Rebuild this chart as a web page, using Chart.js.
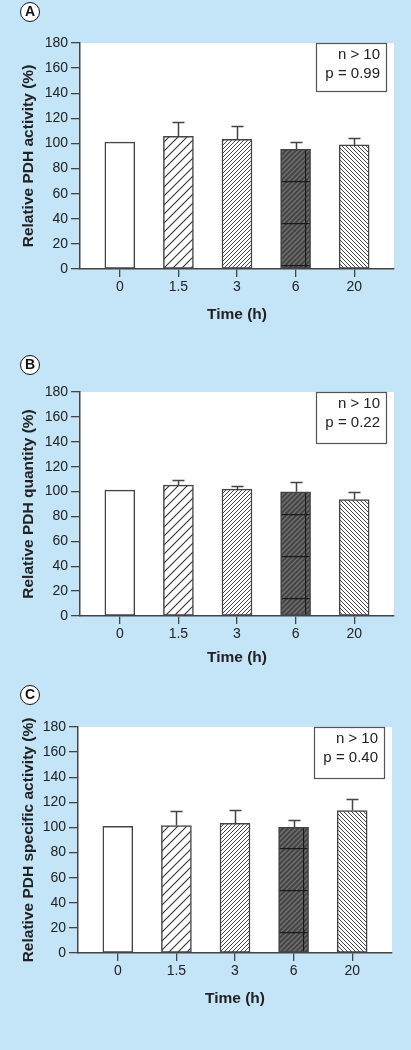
<!DOCTYPE html>
<html>
<head>
<meta charset="utf-8">
<script src="https://cdn.jsdelivr.net/npm/chart.js@4.4.1/dist/chart.umd.min.js"></script>
<style>
body{margin:0;background:#c4e4f7;}
#wrap{position:relative;width:411px;height:1050px;background:#c4e4f7;overflow:hidden;}
.panel{position:absolute;left:0;}
.tag{position:absolute;box-sizing:border-box;width:20px;height:20px;border:1.8px solid #111;border-radius:50%;background:#fff;
  font:bold 14px "Liberation Sans",Arial,sans-serif;color:#111;text-align:center;line-height:17px;}
</style>
</head>
<body>
<div id="wrap"></div>
<script>
"use strict"

// ---- data ----
const timeLabels = ['0', '1.5', '3', '6', '20']
const yMin = 0
const yMax = 180
const yStep = 20

// bar heights (mean, %) and top of the error bar (mean + SD)
const activityMean = [101, 105.7, 103.3, 95.4, 98.8]
const activityErrTop = [null, 117, 114.2, 101.4, 104.4]
const quantityMean = [101.2, 105.2, 102, 99.8, 93.6]
const quantityErrTop = [null, 109.4, 104.1, 107.8, 99.8]
const specificMean = [100.9, 101.5, 103.3, 100.1, 113.4]
const specificErrTop = [null, 112.9, 114.2, 105.9, 122.4]

const yTitles = ['Relative PDH activity (%)', 'Relative PDH quantity (%)', 'Relative PDH specific activity (%)']
const xTitle = 'Time (h)'
const notes = [['n > 10', 'p = 0.99'], ['n > 10', 'p = 0.22'], ['n > 10', 'p = 0.40']]
const tags = ['A', 'B', 'C']

// ---- layout of each panel (pixels) ----
const panels = [
    {top: 0,   h: 340, left: 80, right: 394, plotTop: 43, plotBottom: 269, titlePad: 16, tagY: 12, seamY: 3,  boxH: 48},
    {top: 340, h: 340, left: 80, right: 394, plotTop: 52, plotBottom: 276, titlePad: 13, tagY: 25, seamY: 17, boxH: 51},
    {top: 680, h: 370, left: 78, right: 392, plotTop: 47, plotBottom: 273, titlePad: 42, tagY: 15, seamY: 20, boxH: 51},
]
const allMeans = [activityMean, quantityMean, specificMean]
const allErrs = [activityErrTop, quantityErrTop, specificErrTop]

const INK = '#444'
const TXT = '#222'
Chart.defaults.font.family = '"Liberation Sans", Arial, sans-serif'
Chart.defaults.color = TXT

// hatch patterns
function makeHatch(size, dir, bg, fg, lw){
    const c = document.createElement('canvas')
    c.width = size; c.height = size
    const g = c.getContext('2d')
    g.fillStyle = bg
    g.fillRect(0, 0, size, size)
    g.strokeStyle = fg
    g.lineWidth = lw
    g.beginPath()
    for (let k = -1; k <= 1; k++){
        if (dir > 0){
            g.moveTo(k*size - 1, size + 1); g.lineTo(k*size + size + 1, -1)
        } else {
            g.moveTo(k*size - 1, -1); g.lineTo(k*size + size + 1, size + 1)
        }
    }
    g.stroke()
    return g.createPattern(c, 'repeat')
}
// dark bar: tiled texture with visible seams like in the scan
function makeDarkTile(){
    const w = 25, h = 42
    const c = document.createElement('canvas')
    c.width = w; c.height = h
    const g = c.getContext('2d')
    g.fillStyle = '#454545'
    g.fillRect(0, 0, w, h)
    g.strokeStyle = '#727272'
    g.lineWidth = 1.3
    g.beginPath()
    for (let k = -h; k <= w + h; k += 5){
        g.moveTo(k, h); g.lineTo(k + h, 0)
    }
    g.stroke()
    g.strokeStyle = '#1a1a1a'
    g.lineWidth = 1.3
    g.beginPath()
    g.moveTo(0, 0.5); g.lineTo(w, 0.5)
    g.moveTo(0.5, 0); g.lineTo(0.5, h)
    g.stroke()
    return g.createPattern(c, 'repeat')
}

const plotBg = {
    id: 'plotBg',
    beforeDraw(chart){
        const {ctx, chartArea: a} = chart
        ctx.save()
        ctx.fillStyle = '#fff'
        ctx.fillRect(a.left, a.top, a.right - a.left, a.bottom - a.top)
        ctx.restore()
    }
}

const seamAlign = {
    id: 'seamAlign',
    beforeDatasetsDraw(chart){
        const el = chart.getDatasetMeta(0).data[3]
        const pat = chart.data.datasets[0].backgroundColor[3]
        const left = el.x - el.width/2
        pat.setTransform(new DOMMatrix().translate(Math.round(left) + 24, Math.round(el.base) - chart.options.plugins.seamAlign.seamY))
    }
}

const errorBars = {
    id: 'errorBars',
    afterDatasetsDraw(chart){
        const ctx = chart.ctx
        const ds = chart.data.datasets[0]
        const meta = chart.getDatasetMeta(0)
        const ys = chart.scales.y
        ctx.save()
        ctx.strokeStyle = INK
        ctx.lineWidth = 1.5
        meta.data.forEach((bar, i) => {
            const top = ds.errTop[i]
            if (top == null) return
            const yT = Math.round(ys.getPixelForValue(top)) + 0.5
            const x = Math.round(bar.x) + 0.5
            ctx.beginPath()
            ctx.moveTo(x, bar.y)
            ctx.lineTo(x, yT)
            ctx.moveTo(x - 6, yT)
            ctx.lineTo(x + 6, yT)
            ctx.stroke()
        })
        ctx.restore()
    }
}

const noteBox = {
    id: 'noteBox',
    afterDraw(chart){
        const o = chart.options.plugins.noteBox
        const {ctx, chartArea: a} = chart
        const x0 = a.right - 78, w = 70, y0 = a.top
        ctx.save()
        ctx.fillStyle = '#fff'
        ctx.fillRect(x0, y0, w, o.h)
        ctx.strokeStyle = '#555'
        ctx.lineWidth = 1.2
        ctx.strokeRect(x0 + 0.5, y0 + 0.5, w, o.h)
        ctx.fillStyle = TXT
        ctx.font = '15px "Liberation Sans", Arial, sans-serif'
        ctx.textAlign = 'right'
        ctx.textBaseline = 'middle'
        ctx.fillText(o.lines[0], x0 + w - 6, y0 + 12)
        ctx.fillText(o.lines[1], x0 + w - 6, y0 + 31)
        ctx.restore()
    }
}

const wrap = document.getElementById('wrap')

panels.forEach((p, n) => {
    const div = document.createElement('div')
    div.className = 'panel'
    div.style.top = p.top + 'px'
    div.style.width = '411px'
    div.style.height = p.h + 'px'
    const cv = document.createElement('canvas')
    cv.width = 411; cv.height = p.h
    cv.style.width = '411px'; cv.style.height = p.h + 'px'
    div.appendChild(cv)
    const tag = document.createElement('div')
    tag.className = 'tag'
    tag.style.left = (30 - 10) + 'px'
    tag.style.top = (p.tagY - 10) + 'px'
    tag.textContent = tags[n]
    div.appendChild(tag)
    wrap.appendChild(div)

    const fills = [
        '#ffffff',
        makeHatch(9, 1, '#fff', '#333', 1.1),
        makeHatch(4, 1, '#fff', '#444', 1),
        makeDarkTile(),
        makeHatch(4, -1, '#fff', '#444', 1),
    ]

    new Chart(cv, {
        type: 'bar',
        data: {
            datasets: [{
                data: allMeans[n].map((v, i) => ({x: i, y: v})),
                errTop: allErrs[n],
                backgroundColor: fills,
                borderColor: INK,
                borderWidth: 1.5,
                borderSkipped: false,
                barThickness: 30,
            }]
        },
        options: {
            responsive: false,
            devicePixelRatio: 1,
            animation: false,
            layout: {padding: {top: p.plotTop, right: 411 - p.right, left: 0, bottom: 0}},
            plugins: {
                legend: {display: false},
                tooltip: {enabled: false},
                noteBox: {lines: notes[n], h: p.boxH},
                seamAlign: {seamY: p.seamY},
            },
            scales: {
                x: {
                    type: 'linear',
                    min: -0.68,
                    max: 4.68,
                    offset: false,
                    afterBuildTicks: (s) => { s.ticks = timeLabels.map((t, i) => ({value: i})) },
                    afterFit: (s) => { s.height = p.h - p.plotBottom },
                    ticks: {
                        callback: (v) => timeLabels[v],
                        font: {size: 14},
                        color: TXT,
                        padding: 2,
                        maxRotation: 0,
                    },
                    grid: {offset: false, drawOnChartArea: false, tickLength: 8, color: INK, lineWidth: 1.3},
                    border: {color: INK, width: 1.5},
                    title: {display: true, text: xTitle, font: {size: 15.5, weight: 'bold'}, color: TXT,
                        padding: {top: 0, bottom: p.titlePad}},
                },
                y: {
                    min: yMin,
                    max: yMax,
                    afterFit: (s) => { s.width = p.left },
                    ticks: {stepSize: yStep, font: {size: 14}, color: TXT, padding: 3},
                    grid: {drawOnChartArea: false, tickLength: 9, color: INK, lineWidth: 1.3},
                    border: {color: INK, width: 1.5},
                    title: {display: true, text: yTitles[n], font: {size: 15.5, weight: 'bold'}, color: TXT,
                        padding: {top: 19, bottom: 0}},
                }
            }
        },
        plugins: [plotBg, seamAlign, errorBars, noteBox]
    })
})
</script>
</body>
</html>
